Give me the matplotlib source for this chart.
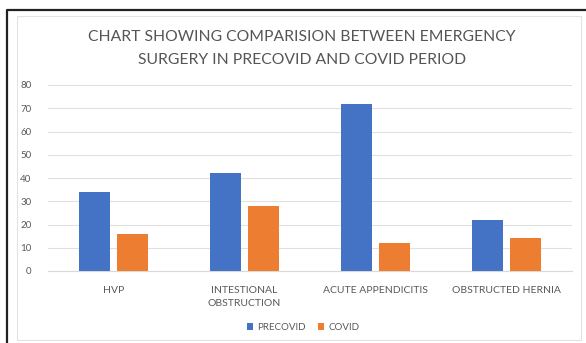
import matplotlib.pyplot as plt
import numpy as np
from matplotlib.lines import Line2D
from matplotlib.patches import Rectangle

categories = ["HVP", "INTESTIONAL\nOBSTRUCTION", "ACUTE APPENDICITIS", "OBSTRUCTED HERNIA"]
precovid = [34, 42, 72, 22]
covid = [16, 28, 12, 14]
yticks = [0, 10, 20, 30, 40, 50, 60, 70, 80]

BLUE = "#4472C4"
ORANGE = "#ED7D31"
TEXT = "#595959"

plt.rcParams["font.family"] = ["Lato", "DejaVu Sans"]

fig = plt.figure(figsize=(5.86, 3.43), dpi=100)
W, H = 586, 343

# outer frame (left + top only visible) and chart-area frame
fig.lines.append(Line2D([7 / W, 7 / W, 1.0], [0.0, 1 - 10 / H, 1 - 10 / H],
                        transform=fig.transFigure, lw=1.6, color="#222222"))
fig.patches.append(Rectangle((17 / W, 3 / H), 1 - 22 / W, 1 - 19 / H, transform=fig.transFigure,
                             fill=False, lw=0.8, ec="#e3e3e3"))

ax = fig.add_axes([48 / W, 1 - 271 / H, 524 / W, 186 / H])
x = np.arange(len(categories))
w = 0.235
off = 0.145
ax.bar(x - off, precovid, w, color=BLUE, label="PRECOVID", zorder=3)
ax.bar(x + off, covid, w, color=ORANGE, label="COVID", zorder=3)

ax.set_xlim(-0.5, len(categories) - 0.5)
ax.set_ylim(0, 80)
ax.set_yticks(yticks)
ax.tick_params(axis="y", length=0, labelsize=7, labelcolor=TEXT, pad=12)
ax.set_xticks(x)
ax.set_xticklabels(categories, fontsize=7.5, color=TEXT, linespacing=1.5)
ax.tick_params(axis="x", length=0, pad=11)
ax.grid(axis="y", color="#e0e0e0", lw=0.8, zorder=0)
for s in ["left", "right", "top"]:
    ax.spines[s].set_visible(False)
ax.spines["bottom"].set_color("#d9d9d9")

fig.text(302 / W, 1 - 37 / H, "CHART SHOWING COMPARISION BETWEEN EMERGENCY",
         ha="center", va="center", fontsize=11.3, color="#555555")
fig.text(302 / W, 1 - 60 / H, "SURGERY IN PRECOVID AND COVID PERIOD",
         ha="center", va="center", fontsize=11.3, color="#555555")

fig.legend(loc="center", bbox_to_anchor=(303 / W, 1 - 327 / H), ncol=2, frameon=False,
           fontsize=7, labelcolor=TEXT, handlelength=0.7, handleheight=0.7,
           handletextpad=0.4, columnspacing=1.2)

fig.savefig("out.png", dpi=100)
